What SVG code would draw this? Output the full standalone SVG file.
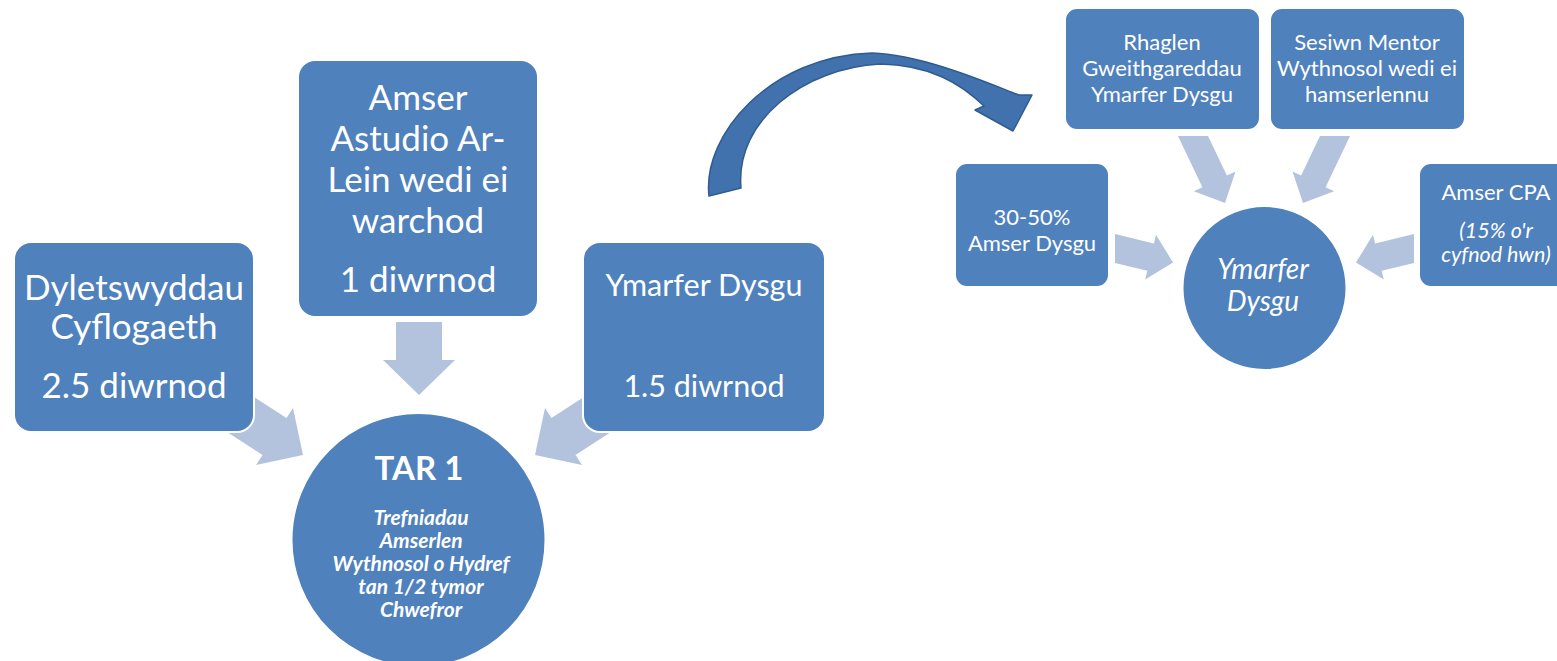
<svg xmlns="http://www.w3.org/2000/svg" width="1557" height="661" viewBox="0 0 1557 661">
<style>
.box{fill:#4f81bd;stroke:#ffffff;stroke-width:2}
.arr{fill:#b3c3de}
.t{font-family:Lato,"Liberation Sans",sans-serif;fill:#ffffff;text-anchor:middle}
.big{font-size:35px}
.mid{font-size:30.5px}
.sm{font-size:22px}
.it{font-style:italic}
.bd{font-weight:bold}
</style>
<rect width="1557" height="661" fill="#ffffff"/>
<g id="connectors">
  <polygon class="arr" points="396,322 442,322 442,360 455,360 419,395 383,360 396,360"/>
  <polygon class="arr" points="248.7,393.5 286.5,418 293,408 303,455 256,465 262.5,455 224.7,430.5"/>
  <polygon class="arr" points="589.3,393.5 551.5,418 545,408 535,455 582,465 575.5,455 613.3,430.5"/>
  <polygon class="arr" points="1178,136 1208,136 1226.9,175.6 1235.5,171.4 1225,203 1193.9,191.2 1202.4,187.2"/>
  <polygon class="arr" points="1350,136 1320,136 1301.1,175.6 1292.5,171.4 1303,203 1334.1,191.2 1325.6,187.2"/>
  <polygon class="arr" points="1115,234 1153.9,243.4 1156,234.7 1173,262.5 1145.2,279.5 1147.3,270.8 1115,263"/>
  <polygon class="arr" points="1414,234 1375.1,243.4 1373,234.7 1356,262.5 1383.8,279.5 1381.7,270.8 1414,263"/>
  <path id="curved-arrow" d="M709,196 C702,135 770,56 872,53 C925,55 990,84 1019,95 L1032,95 L1013,131 L975,110 L984,106 C960,83 930,65 880,64 C805,68 735,120 741,188 Z" fill="#4172ad" stroke="#2f5b8f" stroke-width="1.5" stroke-linejoin="round"/>
</g>
<g id="node-dyletswyddau">
  <rect class="box" x="14" y="242" width="240" height="190" rx="17"/>
  <text class="t big" x="134" y="300">Dyletswyddau</text>
  <text class="t big" x="134" y="339">Cyflogaeth</text>
  <text class="t big" x="134" y="398">2.5 diwrnod</text>
</g>
<g id="node-amser">
  <rect class="box" x="298" y="60" width="240" height="257" rx="17"/>
  <text class="t big" x="418" y="110">Amser</text>
  <text class="t big" x="418" y="151">Astudio Ar-</text>
  <text class="t big" x="418" y="192">Lein wedi ei</text>
  <text class="t big" x="418" y="233">warchod</text>
  <text class="t big" x="418" y="292">1 diwrnod</text>
</g>
<g id="node-ymarfer">
  <rect class="box" x="583" y="242" width="242" height="190" rx="17"/>
  <text class="t mid" x="704" y="296">Ymarfer Dysgu</text>
  <text class="t mid" x="704" y="397">1.5 diwrnod</text>
</g>
<g id="node-tar1">
  <circle cx="418.5" cy="540" r="127" fill="#4f81bd" stroke="#ffffff" stroke-width="2"/>
  <text class="t bd" x="419" y="480" font-size="33">TAR 1</text>
  <text class="t bd it" x="421" y="525" font-size="21">Trefniadau</text>
  <text class="t bd it" x="421" y="548" font-size="21">Amserlen</text>
  <text class="t bd it" x="421" y="571" font-size="21">Wythnosol o Hydref</text>
  <text class="t bd it" x="421" y="594" font-size="21">tan 1/2 tymor</text>
  <text class="t bd it" x="421" y="617" font-size="21">Chwefror</text>
</g>
<g id="node-rhaglen">
  <rect class="box" x="1065" y="8" width="195" height="122" rx="12"/>
  <text class="t sm" x="1162" y="50">Rhaglen</text>
  <text class="t sm" x="1162" y="76">Gweithgareddau</text>
  <text class="t sm" x="1162" y="102">Ymarfer Dysgu</text>
</g>
<g id="node-sesiwn">
  <rect class="box" x="1270" y="8" width="195" height="122" rx="12"/>
  <text class="t sm" x="1367" y="50">Sesiwn Mentor</text>
  <text class="t sm" x="1367" y="76">Wythnosol wedi ei</text>
  <text class="t sm" x="1367" y="102">hamserlennu</text>
</g>
<g id="node-amser-dysgu">
  <rect class="box" x="955" y="163" width="154" height="124" rx="12"/>
  <text class="t sm" x="1032" y="225">30-50%</text>
  <text class="t sm" x="1032" y="251">Amser Dysgu</text>
</g>
<g id="node-cpa">
  <rect class="box" x="1419" y="163" width="160" height="124" rx="12"/>
  <text class="t sm" x="1496" y="200">Amser CPA</text>
  <text class="t it" x="1496" y="238" font-size="21.5">(15% o'r</text>
  <text class="t it" x="1496" y="262" font-size="21.5">cyfnod hwn)</text>
</g>
<g id="node-ymarfer-dysgu">
  <circle cx="1264.5" cy="288" r="82" fill="#4f81bd" stroke="#ffffff" stroke-width="2"/>
  <text class="t it" x="1263" y="279" font-size="28">Ymarfer</text>
  <text class="t it" x="1263" y="311" font-size="28">Dysgu</text>
</g>
</svg>
